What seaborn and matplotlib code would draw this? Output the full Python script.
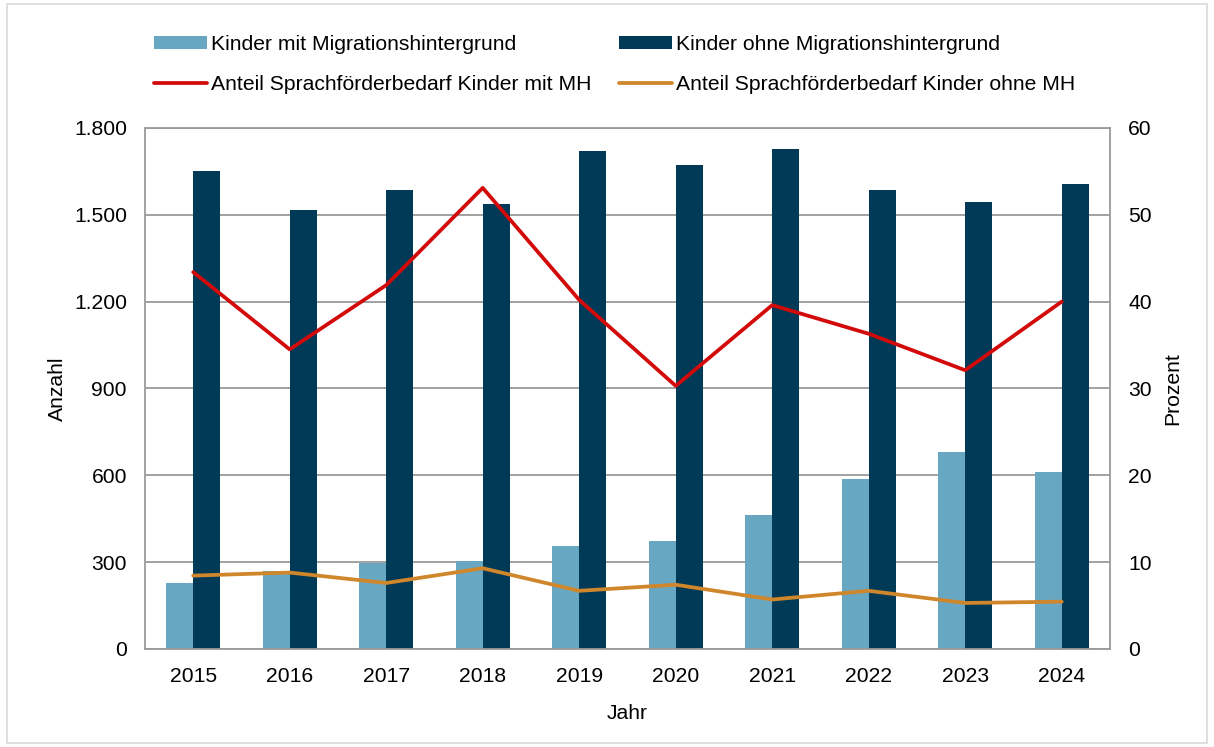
import numpy as np
import pandas as pd
import matplotlib
matplotlib.use("Agg")
import matplotlib.pyplot as plt
import matplotlib.ticker as mticker
import seaborn as sns

years = ["2015", "2016", "2017", "2018", "2019", "2020", "2021", "2022", "2023", "2024"]
kinder_mit_mh = [229, 268, 296, 305, 355, 374, 462, 588, 680, 611]
kinder_ohne_mh = [1653, 1517, 1587, 1538, 1721, 1671, 1727, 1584, 1545, 1607]
anteil_mit_mh = [43.4, 34.5, 41.9, 53.1, 40.2, 30.3, 39.6, 36.3, 32.1, 40.0]
anteil_ohne_mh = [8.45, 8.8, 7.6, 9.3, 6.7, 7.4, 5.7, 6.7, 5.3, 5.45]

lbl_mit = "Kinder mit Migrationshintergrund"
lbl_ohne = "Kinder ohne Migrationshintergrund"
lbl_a_mit = "Anteil Sprachförderbedarf Kinder mit MH"
lbl_a_ohne = "Anteil Sprachförderbedarf Kinder ohne MH"

c_light = "#67A7C1"
c_dark = "#013A57"
c_red = "#D20A0A"
c_orange = "#D0862A"
grid_c = "#9A9A9A"

sns.set_style("white")
plt.rcParams["font.family"] = ["Liberation Sans", "DejaVu Sans"]
plt.rcParams["text.color"] = "black"
plt.rcParams["axes.labelcolor"] = "black"
plt.rcParams["xtick.color"] = "black"
plt.rcParams["ytick.color"] = "black"
fs = 15.2

df = pd.DataFrame({
    "Jahr": years * 2,
    "Anzahl": kinder_mit_mh + kinder_ohne_mh,
    "Gruppe": [lbl_mit] * len(years) + [lbl_ohne] * len(years),
})

fig = plt.figure(figsize=(12.14, 7.47), dpi=100)
ax = fig.add_axes([0.1194, 0.1312, 0.7949, 0.6975])

sns.barplot(data=df, x="Jahr", y="Anzahl", hue="Gruppe", order=years,
            hue_order=[lbl_mit, lbl_ohne], palette=[c_light, c_dark],
            width=0.56, gap=0, saturation=1, edgecolor="none", ax=ax)

ax.set_ylim(0, 1800)
ax.set_yticks(np.arange(0, 1801, 300))
ax.yaxis.set_major_formatter(mticker.FuncFormatter(lambda v, p: f"{int(v):,}".replace(",", ".")))
ax.set_xlim(-0.5, len(years) - 0.5)
ax.grid(axis="y", color=grid_c, linewidth=1.3)
ax.set_axisbelow(True)
for s in ax.spines.values():
    s.set_color(grid_c)
    s.set_linewidth(1.3)
ax.tick_params(axis="y", length=0, labelsize=fs, pad=13)
ax.tick_params(axis="x", length=0, labelsize=fs, pad=13)
ax.set_xlabel("Jahr", fontsize=fs, labelpad=13)
ax.set_ylabel("Anzahl", fontsize=fs, labelpad=5)

ax2 = ax.twinx()
pos = np.arange(len(years))
sns.lineplot(x=pos, y=anteil_mit_mh, color=c_red, linewidth=2.7, ax=ax2, label=lbl_a_mit)
sns.lineplot(x=pos, y=anteil_ohne_mh, color=c_orange, linewidth=2.7, ax=ax2, label=lbl_a_ohne)
ax2.set_ylim(0, 60)
ax2.set_yticks(np.arange(0, 61, 10))
ax2.tick_params(axis="y", length=0, labelsize=fs, pad=13)
ax2.set_ylabel("Prozent", fontsize=fs, labelpad=8)
for s in ax2.spines.values():
    s.set_visible(False)

h1, l1 = ax.get_legend_handles_labels()
h2, l2 = ax2.get_legend_handles_labels()
ax.get_legend().remove()
ax2.get_legend().remove()
handles = [h1[0], h2[0], h1[1], h2[1]]
labels = [l1[0], l2[0], l1[1], l2[1]]
fig.legend(handles, labels, ncol=2, loc="upper left", bbox_to_anchor=(0.1269, 0.953),
           frameon=False, fontsize=fs, handlelength=2.5, handleheight=0.55,
           handletextpad=0.2, columnspacing=1.3, labelspacing=1.0,
           borderpad=0, borderaxespad=0)

fig.patches.append(plt.Rectangle((0.006, 0.006), 0.988, 0.988, transform=fig.transFigure,
                                 fill=False, edgecolor="#D9D9D9", linewidth=1.2))

fig.savefig("out.png", dpi=100)
